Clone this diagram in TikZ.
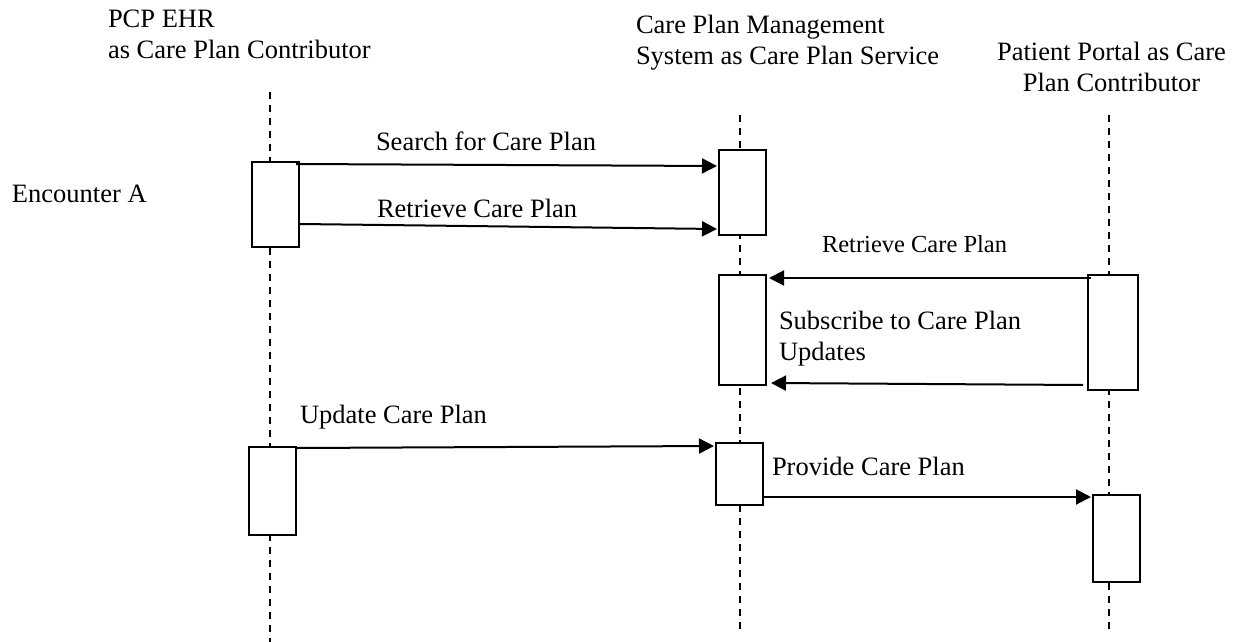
\documentclass[tikz,border=0pt]{standalone}
\usepackage{fontspec}
\setmainfont{Liberation Serif}
\usetikzlibrary{arrows.meta}
\begin{document}
\begin{tikzpicture}[x=1pt,y=-1pt]
\tikzset{
  lifeline/.style={line width=2pt, dash pattern=on 7pt off 6pt},
  actbox/.style={draw, line width=2pt, fill=white, inner sep=0pt, outer sep=0pt},
  msg/.style={line width=2pt, -{Triangle[length=15pt,width=15pt]}},
  lbl/.style={font=\fontsize{26.5}{31}\selectfont, inner sep=0pt, outer sep=0pt, anchor=base west},
  lblsmall/.style={font=\fontsize{24.5}{29}\selectfont, inner sep=0pt, outer sep=0pt, anchor=base west}
}
\useasboundingbox (0,0) rectangle (1240,642);

% headers (multi-line nodes: base = last line's baseline)
\node[lbl, align=left] (hpcp) at (108,59) {PCP EHR\\as Care Plan Contributor};
\node[lbl, align=left] (hcpms) at (636,65) {Care Plan Management\\[1pt]System as Care Plan Service};
\node[lbl, align=center, anchor=base] (hpat) at (1111.5,92) {Patient Portal as Care\\[1pt]Plan Contributor};
\node[lbl] (enc) at (12,202) {Encounter A};

% lifelines
\coordinate (pcpTop) at (270,92);
\coordinate (pcpBot) at (270,642);
\coordinate (cpmsTop) at (740,115);
\coordinate (cpmsBot) at (740,635);
\coordinate (patTop) at (1109,115);
\coordinate (patBot) at (1109,634);
\draw[lifeline] (pcpTop) -- (pcpBot);
\draw[lifeline] (cpmsTop) -- (cpmsBot);
\draw[lifeline] (patTop) -- (patBot);

% activation boxes
\node[actbox, minimum width=47pt, minimum height=85pt] (P1) at (275.5,204.5) {};
\node[actbox, minimum width=47pt, minimum height=88pt] (P2) at (272.5,491) {};
\node[actbox, minimum width=47pt, minimum height=85pt] (C1) at (742.5,192.5) {};
\node[actbox, minimum width=47pt, minimum height=110pt] (C2) at (742.5,330) {};
\node[actbox, minimum width=47pt, minimum height=62pt] (C3) at (739.5,474) {};
\node[actbox, minimum width=50pt, minimum height=115pt] (T1) at (1113,332.5) {};
\node[actbox, minimum width=47pt, minimum height=87pt] (T2) at (1116.5,538.5) {};

% messages
\draw[msg] ([shift={(-3,2)}]P1.north east) -- ([shift={(-2,16)}]C1.north west);
\draw[msg] ([shift={(1,62)}]P1.north east) -- ([shift={(-2,79)}]C1.north west);
\draw[msg] ([shift={(3,3)}]T1.north west) -- ([shift={(3,3)}]C2.north east);
\draw[msg] ([shift={(-5,110)}]T1.north west) -- ([shift={(5,108)}]C2.north east);
\draw[msg] ([shift={(1,1)}]P2.north east) -- ([shift={(-2,3)}]C3.north west);
\draw[msg] ([shift={(1,54)}]C3.north east) -- ([shift={(-2,2)}]T2.north west);

% message labels
\node[lbl] (l1) at (376,150) {Search for Care Plan};
\node[lbl] (l2) at (377,217) {Retrieve Care Plan};
\node[lblsmall] (l3) at (822,252) {Retrieve Care Plan};
\node[lbl, align=left] (l4) at (779,360) {Subscribe to Care Plan\\Updates};
\node[lbl] (l5) at (300,423) {Update Care Plan};
\node[lbl] (l6) at (772,475) {Provide Care Plan};
\end{tikzpicture}
\end{document}
